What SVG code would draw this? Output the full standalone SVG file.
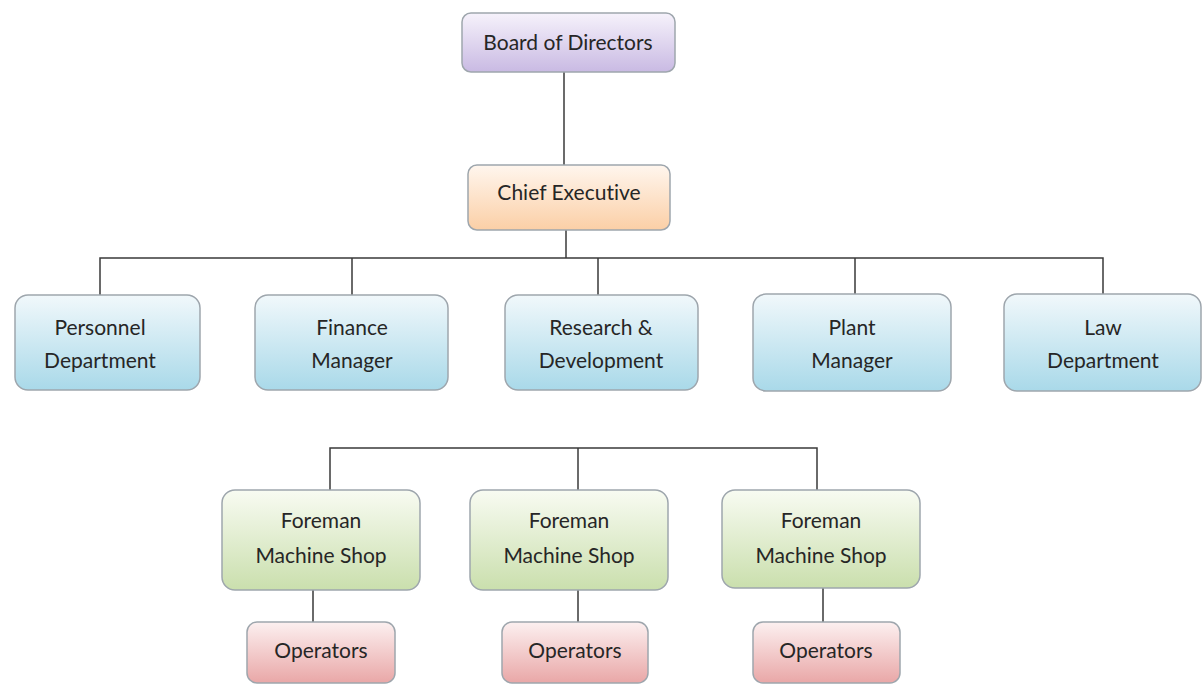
<svg xmlns="http://www.w3.org/2000/svg" width="1203" height="686" viewBox="0 0 1203 686">
<defs>
<linearGradient id="gPurple" x1="0" y1="0" x2="0" y2="1"><stop offset="0" stop-color="#f6f2fb"/><stop offset="1" stop-color="#c9bae3"/></linearGradient>
<linearGradient id="gOrange" x1="0" y1="0" x2="0" y2="1"><stop offset="0" stop-color="#fff6ee"/><stop offset="1" stop-color="#fbcfa6"/></linearGradient>
<linearGradient id="gBlue" x1="0" y1="0" x2="0" y2="1"><stop offset="0" stop-color="#f1f8fb"/><stop offset="1" stop-color="#a9d9e9"/></linearGradient>
<linearGradient id="gGreen" x1="0" y1="0" x2="0" y2="1"><stop offset="0" stop-color="#f8fbf2"/><stop offset="1" stop-color="#cadfad"/></linearGradient>
<linearGradient id="gRed" x1="0" y1="0" x2="0" y2="1"><stop offset="0" stop-color="#fcf0f0"/><stop offset="1" stop-color="#e9a7a7"/></linearGradient>
</defs>
<style>
.box{stroke:#9ea6ad;stroke-width:1.5}
.t{font-family:Lato,"Liberation Sans",sans-serif;font-size:21px;fill:#262626;text-anchor:middle;font-variant-ligatures:none}
.c{stroke:#3a3a3a;stroke-width:1.5;fill:none}
</style>
<rect width="1203" height="686" fill="#ffffff"/>
<g id="connectors">
<path class="c" d="M564 72V165"/>
<path class="c" d="M566 230V258"/>
<path class="c" d="M100 295V258H1103V295"/>
<path class="c" d="M352 258V295M598 258V295M855 258V295"/>
<path class="c" d="M330 490V448H817V490"/>
<path class="c" d="M578 448V490"/>
<path class="c" d="M313 590V622M578 590V622M823 588V622"/>
</g>
<g id="board"><rect class="box" x="462" y="13" width="213" height="59" rx="9" fill="url(#gPurple)"/><text class="t" x="568" y="50">Board of Directors</text></g>
<g id="chief"><rect class="box" x="468" y="165" width="202" height="65" rx="9" fill="url(#gOrange)"/><text class="t" x="569" y="200">Chief Executive</text></g>
<g id="personnel"><rect class="box" x="15" y="295" width="185" height="95" rx="13" fill="url(#gBlue)"/><text class="t" x="100" y="335">Personnel</text><text class="t" x="100" y="368">Department</text></g>
<g id="finance"><rect class="box" x="255" y="295" width="193" height="95" rx="13" fill="url(#gBlue)"/><text class="t" x="352" y="335">Finance</text><text class="t" x="352" y="368">Manager</text></g>
<g id="research"><rect class="box" x="505" y="295" width="193" height="95" rx="13" fill="url(#gBlue)"/><text class="t" x="601" y="335">Research &amp;</text><text class="t" x="601" y="368">Development</text></g>
<g id="plant"><rect class="box" x="753" y="294" width="198" height="97" rx="13" fill="url(#gBlue)"/><text class="t" x="852" y="335">Plant</text><text class="t" x="852" y="368">Manager</text></g>
<g id="law"><rect class="box" x="1004" y="294" width="197" height="97" rx="13" fill="url(#gBlue)"/><text class="t" x="1103" y="335">Law</text><text class="t" x="1103" y="368">Department</text></g>
<g id="foreman1"><rect class="box" x="222" y="490" width="198" height="100" rx="13" fill="url(#gGreen)"/><text class="t" x="321" y="528">Foreman</text><text class="t" x="321" y="563">Machine Shop</text></g>
<g id="foreman2"><rect class="box" x="470" y="490" width="198" height="100" rx="13" fill="url(#gGreen)"/><text class="t" x="569" y="528">Foreman</text><text class="t" x="569" y="563">Machine Shop</text></g>
<g id="foreman3"><rect class="box" x="722" y="490" width="198" height="98" rx="13" fill="url(#gGreen)"/><text class="t" x="821" y="528">Foreman</text><text class="t" x="821" y="563">Machine Shop</text></g>
<g id="operators1"><rect class="box" x="247" y="622" width="148" height="61" rx="10" fill="url(#gRed)"/><text class="t" x="321" y="658">Operators</text></g>
<g id="operators2"><rect class="box" x="502" y="622" width="146" height="61" rx="10" fill="url(#gRed)"/><text class="t" x="575" y="658">Operators</text></g>
<g id="operators3"><rect class="box" x="753" y="622" width="147" height="61" rx="10" fill="url(#gRed)"/><text class="t" x="826" y="658">Operators</text></g>
</svg>
